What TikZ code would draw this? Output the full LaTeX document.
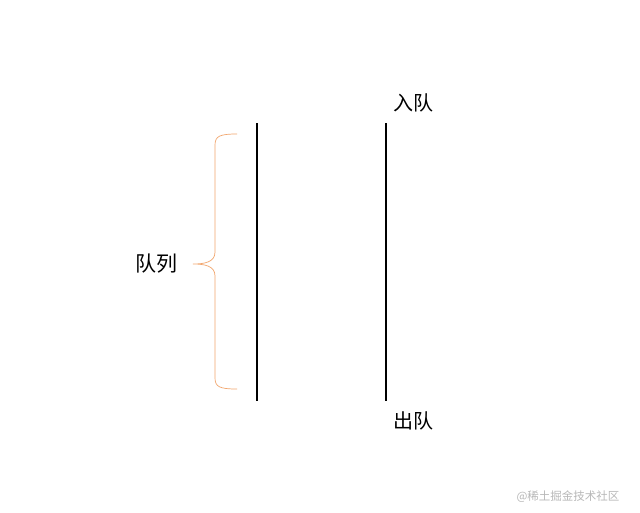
\documentclass[tikz,border=0pt]{standalone}
\usepackage{fontspec}
\newfontfamily\cjk{Noto Sans CJK SC}
\newfontfamily\cjkb{Noto Sans CJK SC Medium}
\definecolor{bracec}{HTML}{F2A66E}
\definecolor{wm}{HTML}{B8B8B8}
\begin{document}
\begin{tikzpicture}[x=1pt,y=-1pt,
  bar/.style={line width=2.6pt,black},
  lbl/.style={font=\cjk\fontsize{20}{20}\selectfont,inner sep=0pt}]
\useasboundingbox[fill=white] (0,0) rectangle (640,512);
\coordinate (l1) at (257,123);
\coordinate (l2) at (257,401);
\coordinate (r1) at (386,123);
\coordinate (r2) at (386,401);
\draw[bar] (l1) -- (l2);
\draw[bar] (r1) -- (r2);
\coordinate (bt) at (237,134);
\coordinate (bb) at (237,389);
\coordinate (bm) at (193,264);
\draw[bracec,line width=0.7pt] (bt) .. controls (220,134) and (215,136) .. (215,145)
  -- (215,252) .. controls (215,262) and (205,264) .. (bm)
  .. controls (205,264) and (215,266) .. (215,276)
  -- (215,378) .. controls (215,387) and (220,389) .. (bb);
\node[font=\cjk\fontsize{21}{21}\selectfont,inner sep=0pt] (q) at (156,264) {队列};
\node[lbl] (in) at (413,103) {入队};
\node[lbl] (out) at (413,421) {出队};
\node[font=\cjk\fontsize{11.5}{11.5}\selectfont,text=wm,inner sep=0pt] (w) at (568,497) {@稀土掘金技术社区};
\end{tikzpicture}
\end{document}
